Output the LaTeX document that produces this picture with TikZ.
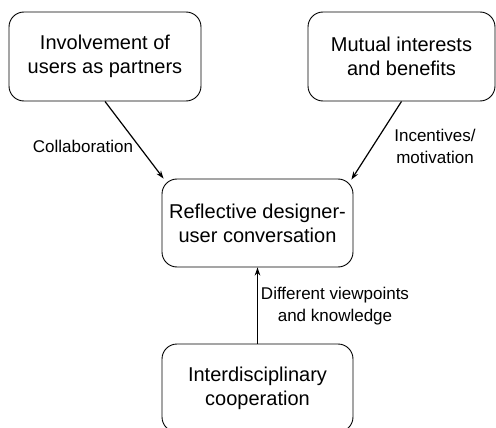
\documentclass[tikz,border=0pt]{standalone}
\usepackage{fontspec}
\setmainfont{Liberation Sans}
\usetikzlibrary{arrows.meta,calc}
\begin{document}
\begin{tikzpicture}[x=1pt,y=-1pt,
  box/.style={draw,line width=0.9pt,rounded corners=15pt,align=center,
    font=\fontsize{20}{24}\selectfont,inner sep=0pt},
  lbl/.style={align=center,font=\fontsize{17}{22}\selectfont,inner sep=0pt},
  link/.style={-{Stealth[length=8pt,width=5.5pt]},line width=1.2pt}]
\useasboundingbox (0,0) rectangle (496,428);
\clip (0,0) rectangle (496,428);
% concept boxes
\node[box,minimum width=192pt,minimum height=89pt] (users) at (105,56.5)
  {Involvement of\\users as partners};
\node[box,minimum width=187pt,minimum height=89pt] (mutual) at (401.5,56.5)
  {Mutual interests\\and benefits};
\node[box,minimum width=191pt,minimum height=88pt] (conv) at (257.5,223)
  {Reflective designer-\\user conversation};
\node[box,minimum width=191pt,minimum height=88pt] (inter) at (257.5,388)
  {Interdisciplinary\\cooperation};
% connectors
\draw[link] (users.south) -- ($(conv.north west)+(2,0)$);
\draw[link] (mutual.south) -- ($(conv.north east)+(-2,1)$);
\draw[link] (inter.north) -- (conv.south);
% connector labels
\node[lbl] (lcol) at (83,146) {Collaboration};
\node[lbl] (linc) at (435,146) {Incentives/\\motivation};
\node[lbl] (ldif) at (335,306) {Different viewpoints\\and knowledge};
\end{tikzpicture}
\end{document}
